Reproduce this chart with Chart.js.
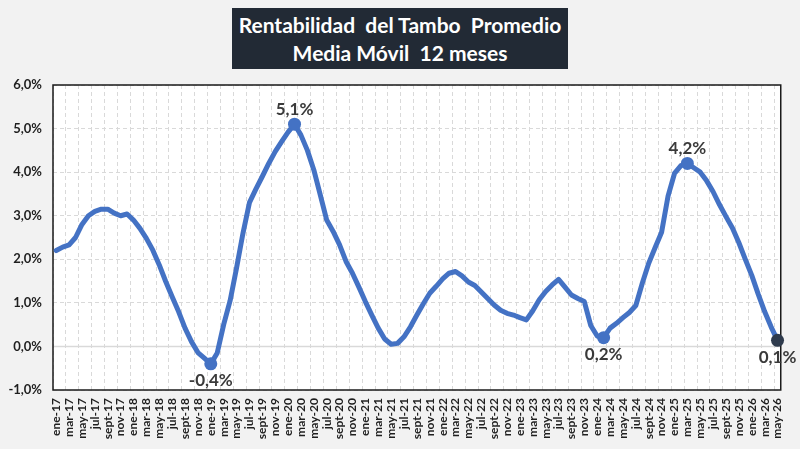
<!DOCTYPE html>
<html>
<head>
<meta charset="utf-8">
<script src="https://cdn.jsdelivr.net/npm/chart.js@4.4.1/dist/chart.umd.min.js"></script>
<style>
html, body { margin: 0; padding: 0; background: #f2f2f2; }
#wrap { position: relative; width: 800px; height: 449px; }
#titulo {
    position: absolute; left: 232px; top: 8px; width: 336px; height: 61px;
    background: #222a35; color: #fff; font: bold 21px Lato, sans-serif;
    text-align: center; white-space: pre; line-height: 28px;
    display: flex; flex-direction: column; justify-content: center;
}
canvas { position: absolute; left: 0; top: 0; }
</style>
</head>
<body>
<div id="wrap">
    <canvas id="grafico" width="800" height="449"></canvas>
    <div id="titulo"><span>Rentabilidad  del Tambo  Promedio</span><span>Media Móvil  12 meses</span></div>
</div>
<script>
// meses y años de la serie (ene-17 .. may-26)
const meses = ['ene','feb','mar','abr','may','jun','jul','ago','sept','oct','nov','dic'];
const anios = ['17','18','19','20','21','22','23','24','25','26'];
const mesesUltimoAnio = 5;

// rentabilidad promedio, media móvil 12 meses (%)
const rentabilidad = [
    2.20, 2.28, 2.33, 2.50, 2.80, 3.00, 3.10, 3.15, 3.15, 3.06, 3.00, 3.04,
    2.90, 2.71, 2.48, 2.21, 1.87, 1.49, 1.14, 0.80, 0.42, 0.11, -0.14, -0.27,
    -0.40, -0.15, 0.50, 1.05, 1.80, 2.60, 3.30, 3.61, 3.90, 4.20, 4.47, 4.70,
    4.92, 5.10, 4.85, 4.50, 4.05, 3.48, 2.90, 2.64, 2.33, 1.95, 1.68, 1.36,
    1.03, 0.72, 0.42, 0.17, 0.05, 0.07, 0.22, 0.45, 0.72, 0.98, 1.22, 1.38,
    1.55, 1.68, 1.72, 1.62, 1.48, 1.40, 1.25, 1.10, 0.95, 0.83, 0.76, 0.72,
    0.66, 0.61, 0.82, 1.07, 1.26, 1.41, 1.54, 1.36, 1.18, 1.10, 1.03, 0.48,
    0.24, 0.20, 0.42, 0.53, 0.66, 0.78, 0.94, 1.45, 1.91, 2.27, 2.62, 3.45,
    3.97, 4.15, 4.20, 4.10, 4.00, 3.80, 3.55, 3.25, 2.98, 2.72, 2.38, 2.00,
    1.63, 1.20, 0.80, 0.45, 0.14
];

// puntos con etiqueta (máximos / mínimos / último)
const destacados = [24, 37, 85, 98, 112];
const etiquetaArriba = [37, 98];

const etiquetas = [];
anios.forEach((a, k) => {
    const n = k === anios.length - 1 ? mesesUltimoAnio : 12;
    for (let m = 0; m < n; m++) etiquetas.push(meses[m] + '-' + a);
});
const ultimo = rentabilidad.length - 1;

const fmt = v => v.toFixed(1).replace('.', ',') + '%';

const fondo = {
    id: 'fondo',
    beforeDraw(chart) {
        const { ctx, chartArea: a } = chart;
        ctx.save();
        ctx.fillStyle = '#ffffff';
        ctx.fillRect(a.left, a.top, a.width, a.height);
        ctx.restore();
    },
    beforeDatasetsDraw(chart) {
        const { ctx, chartArea: a, scales } = chart;
        const y0 = scales.y.getPixelForValue(0);
        ctx.save();
        ctx.strokeStyle = '#d9d9d9';
        ctx.lineWidth = 1.5;
        ctx.beginPath();
        ctx.moveTo(a.left, y0);
        ctx.lineTo(a.right, y0);
        ctx.stroke();
        ctx.strokeStyle = '#1a1a1a';
        ctx.lineWidth = 1.5;
        ctx.strokeRect(a.left, a.top, a.width, a.height);
        ctx.restore();
    },
    afterDatasetsDraw(chart) {
        const ctx = chart.ctx;
        const meta = chart.getDatasetMeta(0);
        ctx.save();
        ctx.font = 'bold 17px Lato';
        ctx.fillStyle = '#3a3a3a';
        ctx.textAlign = 'center';
        ctx.textBaseline = 'middle';
        destacados.forEach(i => {
            const p = meta.data[i];
            const dy = etiquetaArriba.includes(i) ? -15 : 17;
            ctx.fillText(fmt(rentabilidad[i]), p.x, p.y + dy);
        });
        ctx.restore();
    }
};

new Chart(document.getElementById('grafico'), {
    type: 'line',
    data: {
        labels: etiquetas,
        datasets: [{
            data: rentabilidad,
            borderColor: '#4472c4',
            borderWidth: 5,
            borderCapStyle: 'round',
            borderJoinStyle: 'round',
            tension: 0,
            pointRadius: c => destacados.includes(c.index) ? 6.5 : 0,
            pointBorderWidth: 0,
            pointBackgroundColor: c => c.index === ultimo ? '#2e3a4c' : '#4472c4'
        }]
    },
    options: {
        responsive: false,
        animation: false,
        devicePixelRatio: 1,
        layout: { padding: { top: 85, right: 17, left: 0, bottom: 0 } },
        plugins: { legend: { display: false }, tooltip: { enabled: false } },
        scales: {
            x: {
                offset: true,
                grid: {
                    offset: true,
                    drawTicks: false,
                    color: c => c.index % 2 === 0 ? '#d9d9d9' : 'rgba(0,0,0,0)'
                },
                border: { display: false, dash: [4, 3] },
                ticks: {
                    autoSkip: false,
                    maxRotation: 90,
                    minRotation: 90,
                    padding: 8,
                    color: '#1f1f1f',
                    font: { family: 'Lato', size: 12, weight: 'bold' },
                    callback: (v, i) => i % 2 === 0 ? etiquetas[i] : ''
                },
                afterFit: s => { s.height = 59; }
            },
            y: {
                min: -1,
                max: 6,
                grid: {
                    drawTicks: false,
                    color: c => c.tick && c.tick.value === 0 ? 'rgba(0,0,0,0)' : '#d9d9d9'
                },
                border: { display: false, dash: [4, 3] },
                ticks: {
                    stepSize: 1,
                    padding: 11,
                    color: '#1f1f1f',
                    font: { family: 'Lato', size: 13, weight: 'bold' },
                    callback: v => fmt(v)
                },
                afterFit: s => { s.width = 53; }
            }
        }
    },
    plugins: [fondo]
});
</script>
</body>
</html>
